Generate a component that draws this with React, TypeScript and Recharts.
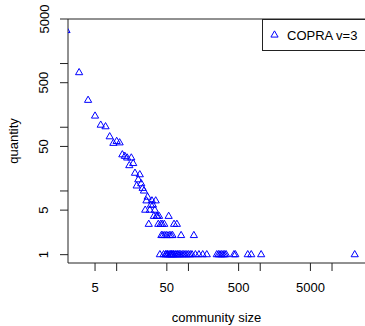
import React from 'react';
import { ScatterChart, Scatter, XAxis, YAxis, ReferenceLine, Label } from 'recharts';

// Community size distribution (log-log)
const communitySizes = [
  2, 3, 4, 5, 6, 7, 8, 9, 10, 11, 12, 13, 14, 15, 16, 17, 18, 19, 20, 21, 22, 23, 24,
  25, 26, 27, 28, 29, 30, 31, 32, 33, 34, 35, 36, 37, 38, 39,
  40, 41, 42, 43, 44, 45, 46, 47, 48, 49, 50, 51, 52, 53, 54, 55, 56, 57, 58, 59, 60,
  61, 62, 63, 65, 67, 69, 70, 72, 75, 78, 79, 82, 86, 90, 95, 100, 106, 112, 119, 125,
  140, 158, 180, 248, 262, 275, 290, 305, 320, 335, 430, 450, 670, 750, 1030, 20700,
];
const quantities = [
  3300, 720, 265, 150, 108, 102, 71, 56, 60, 57, 37, 35, 33, 25, 33, 27, 19, 12, 15, 18, 13, 11, 10,
  5, 7, 8, 3, 5, 6, 7, 6, 4, 5, 7, 4, 4, 3, 4,
  1, 3, 2, 3, 2, 1, 3, 2, 1, 1, 2, 1, 1, 4, 2, 1, 1, 2, 1, 1, 2,
  1, 1, 3, 1, 1, 3, 1, 1, 1, 1, 2, 1, 1, 1, 1, 1, 1, 1, 2, 1,
  1, 1, 1, 1, 1, 1, 1, 1, 1, 1, 1, 1, 1, 1, 1, 1,
];

const seriesName = 'COPRA v=3';
const xTitle = 'community size';
const yTitle = 'quantity';

const xTicks = [5, 10, 50, 100, 500, 1000, 5000, 10000];
const xTickLabels = ['5', '', '50', '', '500', '', '5000', ''];
const yTicks = [1, 5, 10, 50, 100, 500, 1000, 5000];
const yTickLabels = ['1', '5', '', '50', '', '500', '', '5000'];

const data = communitySizes.map((size, i) => ({ size, quantity: quantities[i] }));

const FONT = '"Liberation Sans", Arial, Helvetica, sans-serif';
const BLUE = '#0000ff';
const INK = '#222';

// Open triangle marker, centred on its centroid
const Triangle = (props: any) => {
  const { cx, cy } = props;
  if (cx == null || cy == null) return null;
  const d = `M${cx},${cy - 4.15}L${cx + 3.6},${cy + 2.08}L${cx - 3.6},${cy + 2.08}Z`;
  return <path d={d} fill="none" stroke={BLUE} strokeWidth={1} />;
};

const XTick = (props: any) => {
  const { x, y, payload } = props;
  const label = xTickLabels[xTicks.indexOf(payload.value)];
  if (!label) return null;
  return (
    <text x={x} y={y + 20.5} textAnchor="middle" fontFamily={FONT} fontSize={13} fill="#000">
      {label}
    </text>
  );
};

const YTick = (props: any) => {
  const { x, y, payload } = props;
  const label = yTickLabels[yTicks.indexOf(payload.value)];
  if (!label) return null;
  const bx = x - 11.5;
  return (
    <text
      x={bx}
      y={y}
      transform={`rotate(-90 ${bx} ${y})`}
      textAnchor="middle"
      fontFamily={FONT}
      fontSize={13}
      fill="#000"
    >
      {label}
    </text>
  );
};

const XTitle = (props: any) => {
  const vb = props.viewBox || {};
  return (
    <text x={vb.x + vb.width / 2} y={vb.y + 59} textAnchor="middle" fontFamily={FONT} fontSize={13} fill="#000">
      {xTitle}
    </text>
  );
};

const YTitle = (props: any) => {
  const vb = props.viewBox || {};
  const bx = vb.x + 17.5;
  const cy = vb.y + vb.height / 2;
  return (
    <text x={bx} y={cy} transform={`rotate(-90 ${bx} ${cy})`} textAnchor="middle" fontFamily={FONT} fontSize={13} fill="#000">
      {yTitle}
    </text>
  );
};

export default function App() {
  return (
    <div style={{ position: 'absolute', left: 0, top: 0, width: 365, height: 326, overflow: 'hidden', background: '#fff' }}>
      <ScatterChart width={365} height={326} margin={{ top: 19, right: 0, bottom: 0, left: 0 }}>
        <XAxis
          dataKey="size"
          type="number"
          scale="log"
          domain={[2.1, 28800]}
          allowDataOverflow
          ticks={xTicks}
          interval={0}
          tick={<XTick />}
          tickSize={8}
          tickMargin={0}
          height={63}
          axisLine={{ stroke: INK }}
          tickLine={{ stroke: INK }}
        >
          <Label content={<XTitle />} />
        </XAxis>
        <YAxis
          dataKey="quantity"
          type="number"
          scale="log"
          domain={[0.74, 5000]}
          allowDataOverflow
          ticks={yTicks}
          interval={0}
          tick={<YTick />}
          tickSize={8}
          tickMargin={0}
          width={68}
          axisLine={{ stroke: INK }}
          tickLine={{ stroke: INK }}
        >
          <Label content={<YTitle />} />
        </YAxis>
        <ReferenceLine y={5000} stroke={INK} ifOverflow="visible" />
        <Scatter name={seriesName} data={data} shape={<Triangle />} isAnimationActive={false} />
      </ScatterChart>
      <div
        style={{
          position: 'absolute',
          left: 262,
          top: 19,
          width: 110,
          height: 32,
          border: `1px solid ${INK}`,
          boxSizing: 'border-box',
          background: '#fff',
        }}
      >
        <svg width={110} height={32} style={{ position: 'absolute', left: -1, top: -1 }}>
          <path d="M12.5,11.85L16.1,18.08L8.9,18.08Z" fill="none" stroke={BLUE} strokeWidth={1} />
          <text x={25} y={20.5} fontFamily={FONT} fontSize={13} fill="#000">
            {seriesName}
          </text>
        </svg>
      </div>
    </div>
  );
}
